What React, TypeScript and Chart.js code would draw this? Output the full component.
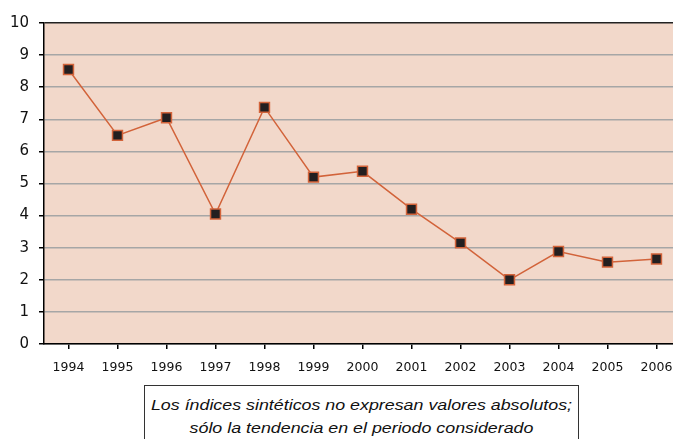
import React, { useEffect, useRef } from "react";
import { Chart, registerables } from "chart.js";

Chart.register(...registerables);

const years = ["1994", "1995", "1996", "1997", "1998", "1999", "2000", "2001", "2002", "2003", "2004", "2005", "2006"];
const indexValues = [8.55, 6.5, 7.05, 4.05, 7.37, 5.2, 5.38, 4.2, 3.15, 2.0, 2.88, 2.55, 2.65];
const noteLines = [
  "Los índices sintéticos no expresan valores absolutos;",
  "sólo la tendencia en el periodo considerado",
];

const plotBg = {
  id: "plotBg",
  beforeDraw(chart: any) {
    const { ctx, chartArea } = chart;
    if (!chartArea) return;
    ctx.save();
    ctx.fillStyle = "#F2D8CA";
    ctx.fillRect(chartArea.left, chartArea.top, chartArea.right - chartArea.left, chartArea.bottom - chartArea.top);
    ctx.restore();
  },
};

export default function App() {
  const ref = useRef<HTMLCanvasElement | null>(null);
  useEffect(() => {
    if (!ref.current) return;
    const chart = new Chart(ref.current, {
      type: "line",
      data: {
        labels: years,
        datasets: [
          {
            data: indexValues,
            borderColor: "#D2633A",
            borderWidth: 1.5,
            backgroundColor: "#231F20",
            pointStyle: "rect",
            pointRadius: 7,
            pointBorderColor: "#D2633A",
            pointBorderWidth: 1.5,
            pointBackgroundColor: "#231F20",
            tension: 0,
          },
        ],
      },
      options: {
        animation: false,
        responsive: false,
        maintainAspectRatio: false,
        layout: { padding: { top: 23, right: 19, left: 0, bottom: 0 } },
        plugins: { legend: { display: false }, tooltip: { enabled: false } },
        scales: {
          x: {
            type: "category",
            offset: true,
            afterFit: (s: any) => {
              s.height = 36;
            },
            grid: {
              drawOnChartArea: false,
              tickLength: 5,
              color: "#000",
              tickColor: "#000",
              lineWidth: 1.5,
            },
            border: { color: "#000", width: 1.5 },
            ticks: {
              color: "#111",
              font: { family: "DejaVu Sans, sans-serif", size: 12.5 },
              padding: 11,
              maxRotation: 0,
              autoSkip: false,
            },
          },
          y: {
            min: 0,
            max: 10,
            afterFit: (s: any) => {
              s.width = 44;
            },
            grid: {
              color: (c: any) => (c.tick && c.tick.value === 10 ? "#222" : "#A6A6A6"),
              lineWidth: 1.5,
              tickLength: 5,
              tickColor: "#000",
            },
            border: { color: "#000", width: 1.5 },
            ticks: {
              stepSize: 1,
              color: "#111",
              padding: 10,
              font: { family: "DejaVu Sans, sans-serif", size: 15 },
            },
          },
        },
      },
      plugins: [plotBg],
    });
    return () => chart.destroy();
  }, []);

  return (
    <div style={{ position: "fixed", left: 0, top: 0, width: 700, height: 439, background: "#fff", overflow: "hidden" }}>
      <canvas ref={ref} width={700} height={380} style={{ position: "absolute", left: 0, top: 0, width: 700, height: 380 }} />
      <div
        style={{
          position: "absolute",
          left: 144,
          top: 385,
          width: 435,
          height: 80,
          boxSizing: "border-box",
          border: "1.5px solid #333",
          background: "#fff",
          fontFamily: "Liberation Sans, Arial, sans-serif",
          fontStyle: "italic",
          fontSize: 15.5,
          lineHeight: "23px",
          textAlign: "center",
          paddingTop: 7,
          color: "#111",
        }}
      >
        {noteLines.map((l, i) => (
          <div key={i} style={{ transform: "scaleX(1.15)", transformOrigin: "center", whiteSpace: "nowrap" }}>
            {l}
          </div>
        ))}
      </div>
    </div>
  );
}
